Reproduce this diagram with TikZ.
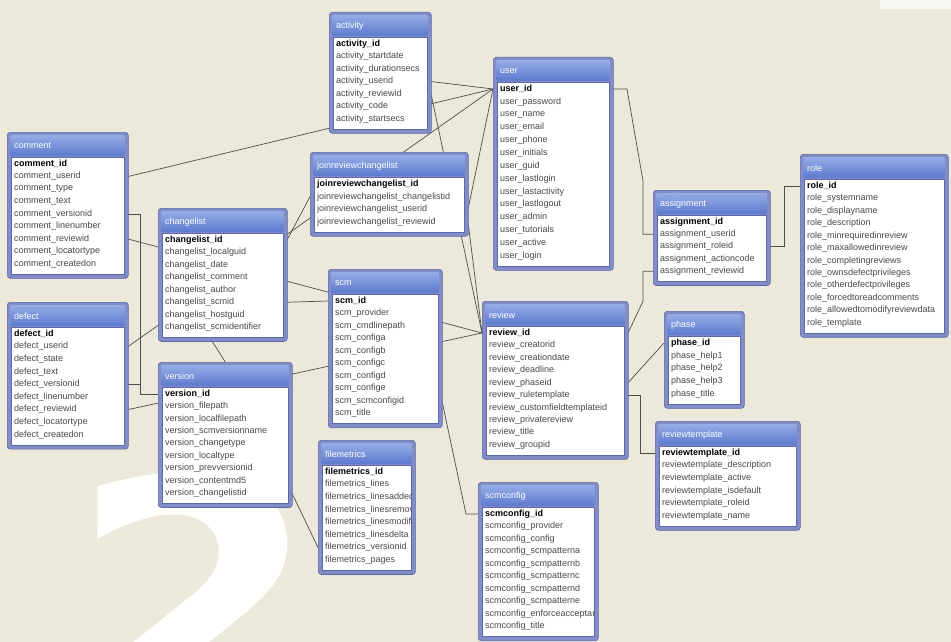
\documentclass[tikz,border=0pt]{standalone}
\usepackage{fontspec}
\setmainfont{Liberation Sans}
\newfontfamily\bigfont{DejaVu Sans}
\usetikzlibrary{calc}
\definecolor{bg}{RGB}{236,233,218}
\definecolor{framec}{RGB}{130,140,198}
\definecolor{framel}{RGB}{92,104,168}
\definecolor{headtop}{RGB}{150,172,230}
\definecolor{headbot}{RGB}{92,122,206}
\definecolor{fieldc}{RGB}{72,72,72}
\definecolor{linec}{RGB}{78,78,78}
\pgfdeclarelayer{back}
\pgfdeclarelayer{lines}
\pgfsetlayers{back,lines,main}
\tikzset{
  tablebox/.style={draw=framel, fill=framec, rounded corners=3pt, inner sep=0pt, line width=0.6pt},
  fieldtext/.style={anchor=west, inner sep=0pt, font=\fontsize{9}{10}\selectfont, text=fieldc},
  headtext/.style={anchor=west, inner sep=0pt, font=\fontsize{9}{10}\selectfont, text=white},
  conn/.style={draw=linec, line width=0.7pt},
}
% name, x, y of first field, width, row spacing, number of fields, fields
\newcommand\ertable[7]{%
  \pgfmathsetmacro\erT{#3-32}%
  \pgfmathsetmacro\erB{#3+(#6-1)*#5+14}%
  \pgfmathsetmacro\erR{#2+#4}%
  \pgfmathsetmacro\erH{\erB-\erT}%
  \node[tablebox, minimum width=#4pt, minimum height=\erH pt, anchor=north west] (#1) at (#2,\erT) {};%
  \shade[top color=headtop, bottom color=headbot, rounded corners=2pt] (#2+3,\erT+3) rectangle (\erR-3,\erT+24);%
  \fill[white] (#2+4,\erT+25) rectangle (\erR-4,\erB-4);%
  \draw[framel, line width=0.4pt] (#2+4,\erT+25) rectangle (\erR-4,\erB-4);%
  \node[headtext] (#1-title) at (#2+7,\erT+14) {#1};%
  \begin{scope}
    \clip (#2+4,\erT) rectangle (\erR-4,\erB);
    \foreach \f [count=\i] in {#7} {
      \node[fieldtext] (#1-\i) at (#2+7,{#3+(\i-1)*#5}) {\ifnum\i=1 \bfseries\color{black}\fi #1\_\f};
    }
  \end{scope}
  \foreach \f [count=\i] in {#7} {
    \coordinate (#1-\i-l) at (#2,{#3+(\i-1)*#5});
    \coordinate (#1-\i-r) at (\erR,{#3+(\i-1)*#5});
  }%
}
\begin{document}
\begin{tikzpicture}[x=1pt,y=-1pt]
\useasboundingbox (0,0) rectangle (951,642);
\begin{pgfonlayer}{back}
  \fill[bg] (0,0) rectangle (951,642);
  \fill[white!70!bg] (880,0) rectangle (951,9);
  \begin{scope}
    \clip (0,0) rectangle (951,642);
    \node[anchor=north west, inner sep=0pt, text=white, xscale=1.1, font=\bigfont\bfseries\fontsize{330}{330}\selectfont] (two) at (68,472) {2};
  \end{scope}
\end{pgfonlayer}

\ertable{activity}{329}{44}{102}{12.5}{7}{id,startdate,durationsecs,userid,reviewid,code,startsecs}
\ertable{user}{493}{89}{120}{12.85}{14}{id,password,name,email,phone,initials,guid,lastlogin,lastactivity,lastlogout,admin,tutorials,active,login}
\ertable{comment}{7}{164}{121}{12.5}{9}{id,userid,type,text,versionid,linenumber,reviewid,locatortype,createdon}
\ertable{defect}{7}{334}{121}{12.6}{9}{id,userid,state,text,versionid,linenumber,reviewid,locatortype,createdon}
\ertable{changelist}{158}{240}{129}{12.45}{8}{id,localguid,date,comment,author,scmid,hostguid,scmidentifier}
\ertable{version}{158}{394}{134}{12.4}{9}{id,filepath,localfilepath,scmversionname,changetype,localtype,prevversionid,contentmd5,changelistid}
\ertable{joinreviewchangelist}{310}{184}{158}{12.7}{4}{id,changelistid,userid,reviewid}
\ertable{scm}{328}{301}{114}{12.5}{10}{id,provider,cmdlinepath,configa,configb,configc,configd,confige,scmconfigid,title}
\ertable{filemetrics}{318}{472}{97}{12.6}{8}{id,lines,linesadded,linesremoved,linesmodified,linesdelta,versionid,pages}
\ertable{review}{482}{333}{146}{12.45}{10}{id,creatorid,creationdate,deadline,phaseid,ruletemplate,customfieldtemplateid,privatereview,title,groupid}
\ertable{scmconfig}{478}{514}{120}{12.5}{10}{id,provider,config,scmpatterna,scmpatternb,scmpatternc,scmpatternd,scmpatterne,enforceacceptance,title}
\ertable{assignment}{653}{222}{117}{12.3}{5}{id,userid,roleid,actioncode,reviewid}
\ertable{role}{800}{186}{148}{12.45}{12}{id,systemname,displayname,description,minrequiredinreview,maxallowedinreview,completingreviews,ownsdefectprivileges,otherdefectprivileges,forcedtoreadcomments,allowedtomodifyreviewdata,template}
\ertable{phase}{664}{343}{80}{12.75}{5}{id,help1,help2,help3,title}
\ertable{reviewtemplate}{655}{453}{145}{12.6}{6}{id,description,active,isdefault,roleid,name}

\begin{pgfonlayer}{lines}
  \draw[conn] (comment-2-r) -- (user-1-l);
  \draw[conn] (defect-2-r) -- (user-1-l);
  \draw[conn] (comment-7-r) -- (review-1-l);
  \draw[conn] (defect-7-r) -- (review-1-l);
  \draw[conn] (comment-5-r) -- ++(12,0) |- (version-1-l);
  \draw[conn] (defect-5-r) -- ++(12,0) |- (version-1-l);
  \draw[conn] (joinreviewchangelist-2-l) -- (changelist-1-r);
  \draw[conn] (joinreviewchangelist-3-r) -- (user-1-l);
  \draw[conn] (joinreviewchangelist-4-r) -- (review-1-l);
  \draw[conn] (activity-4-r) -- (user-1-l);
  \draw[conn] (activity-5-r) -- (review-1-l);
  \draw[conn] (changelist-6-r) -- (scm-1-l);
  \draw[conn] (version-9-r) -- (filemetrics-7-l);
  \draw[conn] ($(changelist.south west)!0.42!(changelist.south east)$) -- ($(version.north west)!0.5!(version.north east)$);
  \draw[conn] (scm-9-r) -- ($(scmconfig-1-l)+(-12,0)$) -- (scmconfig-1-l);
  \draw[conn] (user-1-r) -- ++(14,0) -- ++(16,92) |- (assignment-2-l);
  \draw[conn] (assignment-5-l) -- ++(-10,0) -- ++(0,30) -- (review-1-r);
  \draw[conn] (assignment-3-r) -- ++(14,0) |- (role-1-l);
  \draw[conn] (review-5-r) -- (phase-1-l);
  \draw[conn] (review-6-r) -- ++(12,0) |- (reviewtemplate-1-l);
\end{pgfonlayer}
\end{tikzpicture}
\end{document}
